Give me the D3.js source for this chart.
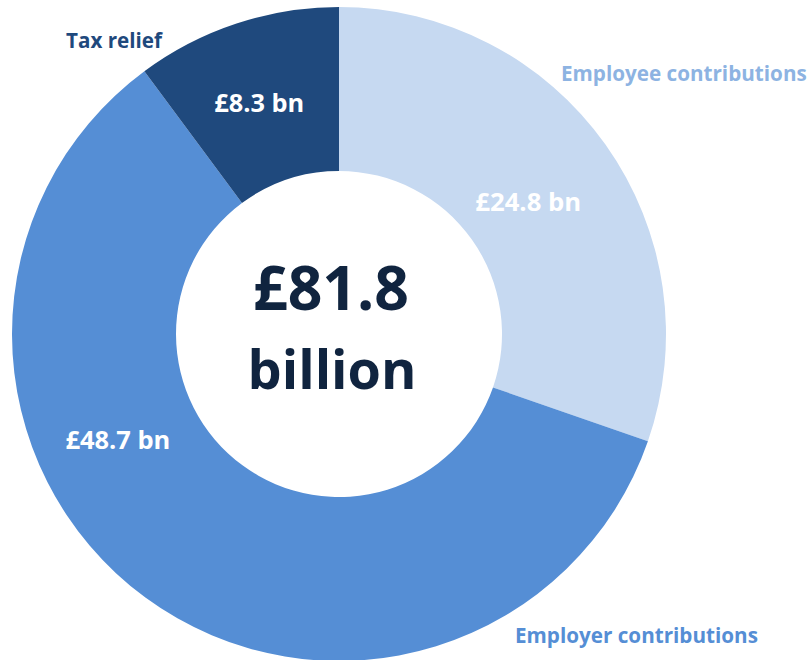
<!DOCTYPE html>
<html>
<head>
<meta charset="utf-8">
<script src="https://cdn.jsdelivr.net/npm/d3@7/dist/d3.min.js"></script>
<style>
  html, body { margin: 0; padding: 0; background: #ffffff; }
  svg { display: block; }
  text { font-family: "Open Sans", "Noto Sans", sans-serif; font-weight: 700; }
</style>
</head>
<body>
<svg id="chart" width="809" height="660"></svg>
<script>
// Pension contributions breakdown (£ billion)
const categories = ["Employee contributions", "Employer contributions", "Tax relief"];
const values = [24.8, 48.7, 8.3];
const valueLabels = ["£24.8 bn", "£48.7 bn", "£8.3 bn"];
const colors = ["#c6d9f1", "#558ed5", "#1f497d"];
const categoryColors = ["#8db3e2", "#558ed5", "#1f497d"];
const totalLabel = ["£81.8", "billion"];

const svg = d3.select("#chart");
const cx = 339, cy = 334;
const outerR = 327, innerR = 163;

const pie = d3.pie().sort(null).value(d => d)(values);
const arc = d3.arc().innerRadius(innerR).outerRadius(outerR);

const g = svg.append("g").attr("transform", `translate(${cx},${cy})`);

g.selectAll("path.slice")
  .data(pie)
  .join("path")
  .attr("class", "slice")
  .attr("d", arc)
  .attr("fill", (d, i) => colors[i]);

// fit a text element to a target width by scaling its font size
function fit(sel, width) {
  const fs = parseFloat(sel.attr("font-size"));
  const w = sel.node().getComputedTextLength();
  sel.attr("font-size", fs * width / w);
  return sel;
}

// value labels inside the ring: angle (deg from top) and radius
const labelPolar = [
  { a: 55, r: 231, w: 106 },
  { a: 244.5, r: 245, w: 105 },
  { a: -19, r: 245, w: 90 }
];
pie.forEach((d, i) => {
  const p = labelPolar[i];
  const rad = p.a * Math.PI / 180;
  const x = p.r * Math.sin(rad), y = -p.r * Math.cos(rad);
  const t = g.append("text")
    .attr("x", x).attr("y", y)
    .attr("text-anchor", "middle")
    .attr("dominant-baseline", "central")
    .attr("font-size", 20)
    .attr("fill", "#ffffff")
    .text(valueLabels[i]);
  fit(t, p.w);
});

// category labels outside the ring
const catPos = [
  { x: 561, y: 81, w: 246 },
  { x: 515, y: 643, w: 243 },
  { x: 66, y: 48, w: 96 }
];
categories.forEach((c, i) => {
  const t = svg.append("text")
    .attr("x", catPos[i].x).attr("y", catPos[i].y)
    .attr("font-size", 20)
    .attr("fill", categoryColors[i])
    .text(c);
  fit(t, catPos[i].w);
});

// total in the centre
const t1 = svg.append("text").attr("x", cx - 8).attr("y", 310)
  .attr("text-anchor", "middle").attr("font-size", 60).attr("fill", "#10243f").text(totalLabel[0]);
fit(t1, 156);
const t2 = svg.append("text").attr("x", cx - 7).attr("y", 389)
  .attr("text-anchor", "middle").attr("font-size", 60).attr("fill", "#10243f").text(totalLabel[1]);
fit(t2, 169);
</script>
</body>
</html>
